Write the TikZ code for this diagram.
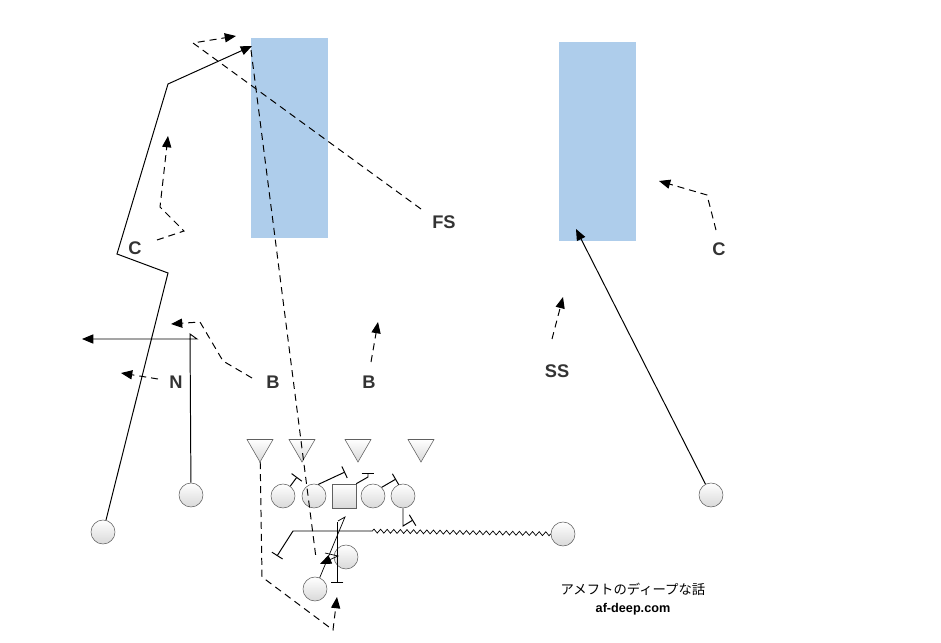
\documentclass[tikz,border=0pt]{standalone}
\usepackage{fontspec}
\setsansfont{Liberation Sans}
\newfontfamily\cjk{Noto Sans CJK JP}
\usetikzlibrary{positioning,shapes.geometric,arrows.meta,decorations.pathmorphing}
\definecolor{zoneblue}{HTML}{AECDEB}
\definecolor{labelgray}{HTML}{333333}

\begin{document}
\begin{tikzpicture}[
  x=0.025cm, y=-0.025cm,
  player/.style={circle,draw=gray!75!black,top color=white,bottom color=gray!30,minimum size=0.6cm,inner sep=0pt},
  snapper/.style={player,rectangle,minimum size=0.6cm},
  rusher/.style={regular polygon,regular polygon sides=3,shape border rotate=180,draw=gray!75!black,top color=white,bottom color=gray!30,minimum size=0.75cm,inner sep=0pt},
  zone/.style={fill=zoneblue},
  poslabel/.style={font=\sffamily\bfseries\fontsize{13}{15}\selectfont,text=labelgray},
  route/.style={line width=0.7pt,-{Triangle[length=8pt,width=6.5pt]}},
  drop/.style={route,dash pattern=on 5pt off 3.5pt},
  block/.style={line width=0.7pt,-{Bar[width=9pt]}},
  motion/.style={line width=0.5pt,decorate,decoration={zigzag,amplitude=1.4pt,segment length=4.7pt}}
]
\useasboundingbox (0,0) rectangle (941,643);

\fill[zone] (251,38) rectangle (328,238);
\fill[zone] (559,42) rectangle (636,241);

\node[player] (wrL) at (103,532) {};
\node[player] (slot) at (191,495) {};
\node[player] (lt) at (283,496) {};
\node[player] (lg) at (314,496) {};
\node[snapper] (ctr) at (344,496) {};
\node[player] (rg) at (373,496) {};
\node[player] (rt) at (403,496) {};
\node[player] (rb) at (346,557) {};
\node[player] (qb) at (315,589) {};
\node[player] (mot) at (563,534) {};
\node[player] (wrR) at (711,495) {};
\foreach \x [count=\i] in {260,302,358,421}
  \node[rusher] (dl\i) at (\x,447) {};

\node[poslabel] (cL) at (135,248) {C};
\node[poslabel] (fs) at (444,222) {FS};
\node[poslabel] (cR) at (719,249) {C};
\node[poslabel] (nk) at (176,382) {N};
\node[poslabel] (bL) at (273,382) {B};
\node[poslabel] (bM) at (369,382) {B};
\node[poslabel] (ss) at (557,371) {SS};

\draw[route] (wrL) -- (168,273) -- (117,254) -- (168,84) -- (252,46);
\draw[route] (slot) -- (190,334) -- (197,339) -- (82,339);
\draw[route] (wrR) -- (576,229);

\coordinate (set) at (370,531);
\draw[motion] (mot) -- (set);
\draw[block] (set) -- (293,531) -- (277,556);

\draw[block] (lt) -- (297,477);
\draw[block] (lg.70) -- (345,472);
\draw[block] (ctr.north east) -- (368,477) -- (368,473);
\draw[block] (rg.north east) -- (396,479);
\draw[block] (rt) -- (403,526) -- (413,520);

\draw[line width=0.5pt] (qb) -- (345,517) -- (338,521);
\draw[block] (337,522) -- (337,583);
\draw[route,line width=0.5pt] (325,553) -- (338,556) -- (320,564);

\draw[drop] (421,209) -- (193,43) -- (236,36);
\draw[drop] (157,240) -- (184,231) -- (160,207) -- (168,136);
\draw[drop] (158,379) -- (121,373);
\draw[drop] (252,378) -- (223,361) -- (200,322) -- (171,324);
\draw[drop] (371,362) -- (378,322);
\draw[drop] (552,339) -- (563,297);
\draw[drop] (716,230) -- (707,195) -- (659,181);
\draw[drop] (dl1) -- (262,577) -- (333,630) -- (337,597);
\draw[line width=0.7pt,dash pattern=on 5pt off 3.5pt] (251,50) -- (316,558);

\node[font=\cjk\fontsize{9.5}{11}\selectfont] (wm) at (633,589) {アメフトのディープな話};
\node[font=\sffamily\bfseries\fontsize{9}{11}\selectfont,below=-1pt of wm] (url) {af-deep.com};
\end{tikzpicture}
\end{document}
